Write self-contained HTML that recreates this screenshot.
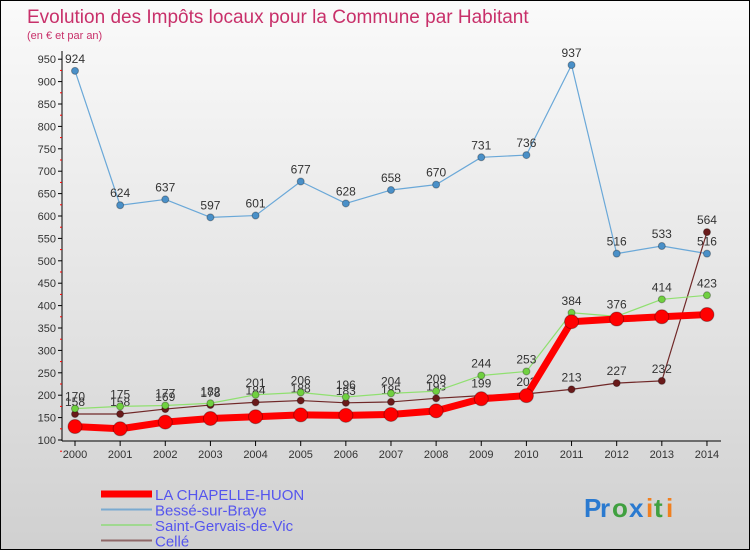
<!DOCTYPE html>
<html><head><meta charset="utf-8"><style>
body{margin:0;width:750px;height:550px;overflow:hidden}
#c{position:relative;width:748px;height:548px;border:1px solid #000;background:linear-gradient(#fafafa,#e2e2e2 60%,#d0d0d0);font-family:"Liberation Sans",sans-serif}
</style></head><body>
<div id="c">
<svg id="s" width="748" height="548"></svg>
</div>
<script>
const years=["2000","2001","2002","2003","2004","2005","2006","2007","2008","2009","2010","2011","2012","2013","2014"];
const yTicks=[100,150,200,250,300,350,400,450,500,550,600,650,700,750,800,850,900,950];
const chapelle=[130,125,140,148,152,156,155,157,165,192,199,364,370,375,380];
const besse=[924,624,637,597,601,677,628,658,670,731,736,937,516,533,516];
const gervais=[170,175,177,182,201,206,196,204,209,244,253,384,376,414,423];
const celle=[158,158,169,178,184,188,183,185,193,199,203,213,227,232,564];
const NS="http://www.w3.org/2000/svg",s=document.getElementById('s');
const X=i=>74+i*45.14, Y=v=>439-(v-100)/50*22.4;
function el(t,a,p){const e=document.createElementNS(NS,t);for(const k in a)e.setAttribute(k,a[k]);(p||s).appendChild(e);return e}
let t=el('text',{x:26,y:22,fill:'#c8306a','font-size':19});t.textContent='Evolution des Impôts locaux pour la Commune par Habitant';

t=el('text',{x:26,y:38,fill:'#c8306a','font-size':11});t.textContent='(en € et par an)';

el('line',{x1:61,y1:50,x2:61,y2:440,stroke:'#000'});
el('line',{x1:61,y1:440,x2:720,y2:440,stroke:'#000'});
yTicks.forEach(v=>{el('line',{x1:57,y1:Y(v),x2:61,y2:Y(v),stroke:'#000'});
const l=el('text',{x:55,y:Y(v)+4,'text-anchor':'end','font-size':11,fill:'#333'});l.textContent=v;

el('line',{x1:59,y1:Y(v)+11.2,x2:61,y2:Y(v)+11.2,stroke:'#f00'});});
years.forEach((y,i)=>{el('line',{x1:X(i),y1:440,x2:X(i),y2:445,stroke:'#000'});
const l=el('text',{x:X(i),y:457,'text-anchor':'middle','font-size':11,fill:'#333'});l.textContent=y;
});
function series(d,col,w,r,name,labels,dot){
const g=el('g',{});
el('polyline',{points:d.map((v,i)=>X(i)+','+Y(v)).join(' '),fill:'none',stroke:col,'stroke-width':w,'stroke-linejoin':'round'},g);
d.forEach((v,i)=>{const c=el('circle',{cx:X(i),cy:Y(v),r:r,fill:dot,stroke:'rgba(0,0,0,0.3)'},g);
if(labels){const l=el('text',{x:X(i),y:Y(v)-8,'text-anchor':'middle','font-size':12,fill:'#333'},g);l.textContent=v;}});}
series(besse,'#6aa8d8',1.2,3.5,'series-besse',true,'#4a90c8');
series(celle,'#702828',1.2,3.5,'series-celle',true,'#6a1a1a');
series(gervais,'#90e070',1.2,3.5,'series-gervais',true,'#70d040');
series(chapelle,'#ff0000',7,7,'series-chapelle',false,'#ff0000');
const leg=[['LA CHAPELLE-HUON','#f00',7],['Bessé-sur-Braye','#7aaad0',2],['Saint-Gervais-de-Vic','#a0d890',2],['Cellé','#906868',2]];
leg.forEach((l,i)=>{const y=493+i*15.5;const g=el('g',{});
el('line',{x1:100,y1:y,x2:151,y2:y,stroke:l[1],'stroke-width':l[2]},g);
const t=el('text',{x:154,y:y+6,fill:'#5555ee','font-size':15},g);t.textContent=l[0];});
const g=el('g',{'font-size':26,'font-weight':'bold'});
[['P','#2a7ad0'],['r','#2a7ad0'],['o','#40a040'],['x','#2a7ad0'],['i','#f08020'],['t','#40a040'],['i','#f08020']].forEach((c,i)=>{
const t=el('text',{x:583+[0,16,28,45,62,70,82][i],y:516,fill:c[1]},g);t.textContent=c[0];});
</script>
</body></html>
